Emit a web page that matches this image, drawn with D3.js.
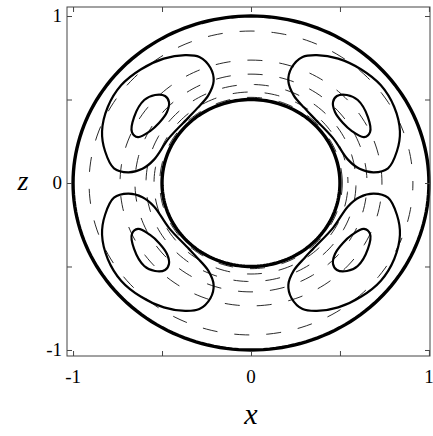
<!DOCTYPE html>
<html>
<head>
<meta charset="utf-8">
<script src="https://cdn.jsdelivr.net/npm/d3@7"></script>
<style>
  body { margin: 0; background: #fff; }
  svg { display: block; }
</style>
</head>
<body>
<script>
// boundary circles of the shell (thick), dashed contour radii
var boundaryRadii = [0.5, 1.0];
var dashedRadii = [0.513, 0.545, 0.59, 0.652, 0.736, 0.91];

// solid contours of the upper-right cell (x, z)
var lobeOuter = [[0.37, 0.766], [0.29, 0.755], [0.228, 0.69], [0.21, 0.61], [0.24, 0.525],
    [0.30, 0.45], [0.35, 0.393], [0.46, 0.27], [0.545, 0.14], [0.61, 0.085], [0.69, 0.064],
    [0.77, 0.088], [0.82, 0.19], [0.837, 0.31], [0.805, 0.455], [0.73, 0.585], [0.62, 0.68],
    [0.49, 0.745]];
var lobeInner = [[0.483, 0.521], [0.539, 0.527], [0.60, 0.497], [0.657, 0.395], [0.669, 0.305],
    [0.635, 0.275], [0.567, 0.311], [0.517, 0.359], [0.472, 0.425], [0.461, 0.485]];
// the four cells are mirror images of each other
var quadrants = [[1, 1], [-1, 1], [1, -1], [-1, -1]];

var tickValues = [-1, -0.5, 0, 0.5, 1];
var labelValues = [-1, 0, 1];
var tickLabels = ['-1', '0', '1'];

var svgwidth = 433, svgheight = 436,
    frame = { left: 67, right: 430, top: 7, bottom: 356 };

var xscale = d3.scaleLinear().domain([-1.034, 1.006]).range([frame.left, frame.right]);
var zscale = d3.scaleLinear().domain([-1.036, 1.054]).range([frame.bottom, frame.top]);

var svg = d3.select('body').append('svg')
    .attr('width', svgwidth)
    .attr('height', svgheight);

var line = d3.line()
    .x(function (d) { return xscale(d[0]); })
    .y(function (d) { return zscale(d[1]); });

function circlePoints(r) {
    return d3.range(0, 361, 2).map(function (a) {
        var t = a * Math.PI / 180;
        return [r * Math.cos(t), r * Math.sin(t)];
    });
}

//dashed contours
svg.selectAll('path.dashed')
    .data(dashedRadii)
    .enter().append('path')
    .attr('class', 'dashed')
    .attr('d', function (r) { return line(circlePoints(r)); })
    .attr('fill', 'none')
    .attr('stroke', '#111')
    .attr('stroke-width', 0.9)
    .attr('stroke-dasharray', '15,17')
    .attr('stroke-dashoffset', function (r, i) { return i * 9; });

//solid cell contours
var cellLine = d3.line()
    .x(function (d) { return xscale(d[0]); })
    .y(function (d) { return zscale(d[1]); })
    .curve(d3.curveCatmullRomClosed);

quadrants.forEach(function (q) {
    [lobeOuter, lobeInner].forEach(function (pts) {
        svg.append('path')
            .attr('d', cellLine(pts.map(function (p) { return [p[0] * q[0], p[1] * q[1]]; })))
            .attr('fill', 'none')
            .attr('stroke', '#000')
            .attr('stroke-width', 2.2);
    });
});

//shell boundaries
svg.selectAll('path.boundary')
    .data(boundaryRadii)
    .enter().append('path')
    .attr('class', 'boundary')
    .attr('d', function (r) { return line(circlePoints(r)); })
    .attr('fill', 'none')
    .attr('stroke', '#000')
    .attr('stroke-width', 3.4);

//frame
svg.append('rect')
    .attr('x', frame.left)
    .attr('y', frame.top)
    .attr('width', frame.right - frame.left)
    .attr('height', frame.bottom - frame.top)
    .attr('fill', 'none')
    .attr('stroke', '#444')
    .attr('stroke-width', 1);

var tl = 5;
function styleTicks(g) {
    g.select('.domain').remove();
    g.selectAll('line').attr('stroke', '#444');
}
svg.append('g').attr('transform', 'translate(0,' + frame.bottom + ')')
    .call(d3.axisBottom(xscale).tickValues(tickValues).tickSize(-tl).tickFormat(''))
    .call(styleTicks);
svg.append('g').attr('transform', 'translate(0,' + frame.top + ')')
    .call(d3.axisTop(xscale).tickValues(tickValues).tickSize(-tl).tickFormat(''))
    .call(styleTicks);
svg.append('g').attr('transform', 'translate(' + frame.left + ',0)')
    .call(d3.axisLeft(zscale).tickValues(tickValues).tickSize(-tl).tickFormat(''))
    .call(styleTicks);
svg.append('g').attr('transform', 'translate(' + frame.right + ',0)')
    .call(d3.axisRight(zscale).tickValues(tickValues).tickSize(-tl).tickFormat(''))
    .call(styleTicks);

//tick labels
svg.selectAll('text.xt')
    .data(labelValues)
    .enter().append('text')
    .attr('class', 'xt')
    .attr('x', function (d) { return xscale(d); })
    .attr('y', 383)
    .attr('text-anchor', 'middle')
    .attr('font-family', 'Liberation Serif')
    .attr('font-size', '19px')
    .text(function (d, i) { return tickLabels[i]; });
svg.selectAll('text.zt')
    .data(labelValues)
    .enter().append('text')
    .attr('class', 'zt')
    .attr('x', 62)
    .attr('y', function (d) { return zscale(d) + 6; })
    .attr('text-anchor', 'end')
    .attr('font-family', 'Liberation Serif')
    .attr('font-size', '19px')
    .text(function (d, i) { return tickLabels[i]; });

//axis names
svg.append('text')
    .attr('x', xscale(0))
    .attr('y', 424)
    .attr('text-anchor', 'middle')
    .attr('font-family', 'Liberation Serif')
    .attr('font-style', 'italic')
    .attr('font-size', '30px')
    .text('x');
svg.append('text')
    .attr('x', 23)
    .attr('y', zscale(0) + 7)
    .attr('text-anchor', 'middle')
    .attr('font-family', 'Liberation Serif')
    .attr('font-style', 'italic')
    .attr('font-size', '28px')
    .text('z');
</script>
</body>
</html>
